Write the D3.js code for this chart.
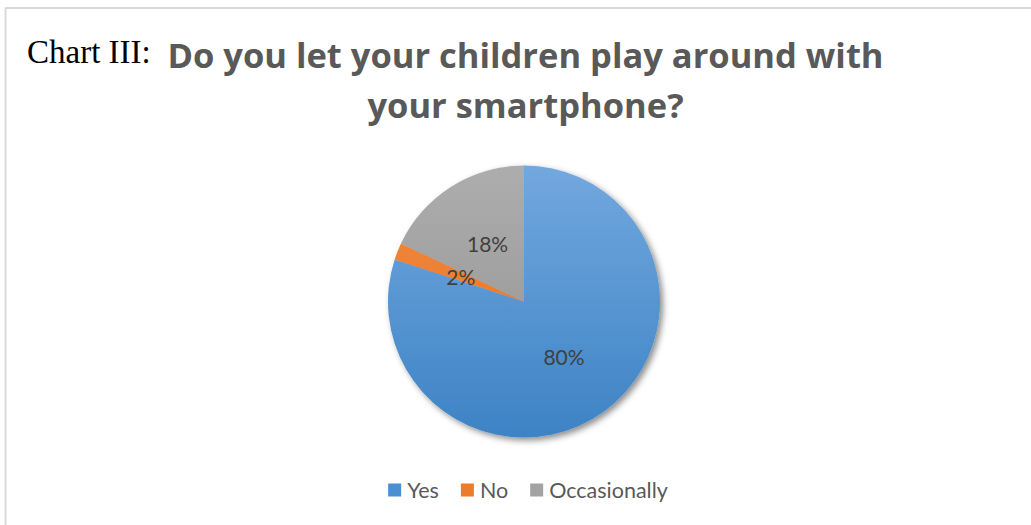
<!DOCTYPE html>
<html>
<head>
<meta charset="utf-8">
<script src="https://cdn.jsdelivr.net/npm/d3@7"></script>
<style>
  html, body { margin: 0; padding: 0; background: #fff; }
  svg { display: block; }
</style>
</head>
<body>
<svg id="chart" width="1031" height="525"></svg>
<script>
// Survey answers
const categories = ["Yes", "No", "Occasionally"];
const values = [80, 2, 18];
const percentLabels = ["80%", "2%", "18%"];
const titleLines = ["Do you let your children play around with", "your smartphone?"];
const chartPrefix = "Chart III:";

// Slice colours: lighter at the top, darker at the bottom
const colorTop = ["#72a8de", "#f38d45", "#adadad"];
const colorBottom = ["#3d83c5", "#e36c1a", "#919191"];
const legendColor = ["#4b8fd3", "#ee7b2a", "#a3a3a3"];

const W = 1031, H = 525;
const cx = 524, cy = 301.5, R = 136;

const svg = d3.select("#chart");
const defs = svg.append("defs");

// vertical gradients spanning the pie's bounding box (pie-local coordinates)
categories.forEach((c, i) => {
  const g = defs.append("linearGradient")
    .attr("id", "grad" + i)
    .attr("gradientUnits", "userSpaceOnUse")
    .attr("x1", 0).attr("x2", 0)
    .attr("y1", -R).attr("y2", R);
  g.append("stop").attr("offset", "0%").attr("stop-color", colorTop[i]);
  g.append("stop").attr("offset", "100%").attr("stop-color", colorBottom[i]);
});

const shadow = defs.append("filter").attr("id", "pieShadow")
  .attr("x", "-20%").attr("y", "-20%").attr("width", "140%").attr("height", "140%");
shadow.append("feDropShadow")
  .attr("dx", 3).attr("dy", 3).attr("stdDeviation", 3)
  .attr("flood-color", "#000").attr("flood-opacity", 0.45);

// frame (top and left edges)
svg.append("line").attr("x1", 5).attr("x2", W).attr("y1", 8).attr("y2", 8)
  .attr("stroke", "#d9d9d9").attr("stroke-width", 2);
svg.append("line").attr("x1", 5.5).attr("x2", 5.5).attr("y1", 8).attr("y2", H)
  .attr("stroke", "#d9d9d9").attr("stroke-width", 2);

// prefix label
svg.append("text")
  .attr("x", 27).attr("y", 63)
  .attr("font-family", "'Liberation Serif', 'Times New Roman', serif")
  .attr("font-size", 33)
  .attr("fill", "#000")
  .text(chartPrefix);

// title
const title = svg.append("g")
  .attr("font-family", "'Open Sans', Lato, sans-serif")
  .attr("font-weight", "bold")
  .attr("font-size", 34.5)
  .attr("fill", "#595959")
  .attr("text-anchor", "middle");
title.selectAll("text").data(titleLines).join("text")
  .attr("x", 525.5)
  .attr("y", (d, i) => 68 + i * 50)
  .text(d => d);

// pie
const pie = d3.pie().sort(null).value(d => d);
const arcs = pie(values);
const arc = d3.arc().innerRadius(0).outerRadius(R);

const pieG = svg.append("g").attr("transform", `translate(${cx},${cy})`);
pieG.append("g").attr("filter", "url(#pieShadow)")
  .selectAll("path").data(arcs).join("path")
  .attr("d", arc)
  .attr("fill", (d, i) => `url(#grad${i})`);

pieG.append("g")
  .attr("font-family", "Lato, 'Open Sans', sans-serif")
  .attr("font-size", 21)
  .attr("fill", "#404040")
  .attr("text-anchor", "middle")
  .selectAll("text").data(arcs).join("text")
  .attr("transform", d => `translate(${arc.centroid(d)})`)
  .attr("dy", "0.4em")
  .text((d, i) => percentLabels[i]);

// legend
const legend = svg.append("g")
  .attr("font-family", "Lato, 'Open Sans', sans-serif")
  .attr("font-size", 21.5)
  .attr("fill", "#595959");
const sw = 13, gapText = 6, gapItem = 22, legendY = 490;
const items = legend.selectAll("g").data(categories).join("g");
items.append("rect")
  .attr("width", sw).attr("height", sw)
  .attr("y", legendY - sw / 2)
  .attr("fill", (d, i) => legendColor[i]);
items.append("text")
  .attr("x", sw + gapText)
  .attr("y", legendY)
  .attr("dy", "0.36em")
  .text(d => d);
let x = 0;
const widths = [];
items.each(function () {
  widths.push(sw + gapText + this.querySelector("text").getComputedTextLength());
});
const total = d3.sum(widths) + gapItem * (widths.length - 1);
x = 528 - total / 2;
items.attr("transform", (d, i) => {
  const t = `translate(${x},0)`;
  x += widths[i] + gapItem;
  return t;
});
</script>
</body>
</html>
